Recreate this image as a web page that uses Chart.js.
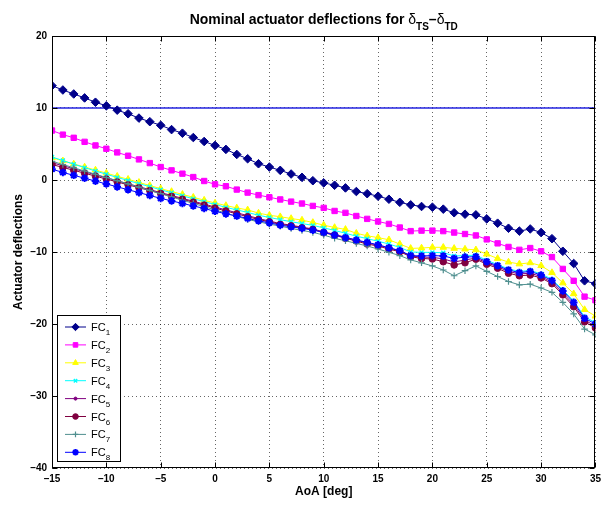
<!DOCTYPE html>
<html><head><meta charset="utf-8">
<script src="https://cdn.jsdelivr.net/npm/chart.js@4/dist/chart.umd.min.js"></script>
<style>html,body{margin:0;padding:0;background:#fff}#wrap{width:606px;height:506px}</style>
</head><body><div id="wrap"><canvas id="c" width="606" height="506"></canvas></div>
<script>
const aoaDeg = [-15,-14,-13,-12,-11,-10,-9,-8,-7,-6,-5,-4,-3,-2,-1,0,1,2,3,4,5,6,7,8,9,10,11,12,13,14,15,16,17,18,19,20,21,22,23,24,25,26,27,28,29,30,31,32,33,34,35];
const seriesNames = ['FC1','FC2','FC3','FC4','FC5','FC6','FC7','FC8'];
const fc1 = [13.1,12.5,11.95,11.4,10.8,10.3,9.7,9.2,8.6,8.1,7.6,7.0,6.5,5.9,5.35,4.8,4.25,3.55,2.95,2.26,1.8,1.34,0.83,0.37,-0.1,-0.4,-0.73,-1.1,-1.6,-1.9,-2.25,-2.67,-3.1,-3.45,-3.68,-3.78,-4.05,-4.55,-4.75,-4.84,-5.4,-6.0,-6.7,-7.1,-6.8,-7.3,-8.15,-9.9,-11.6,-14.0,-14.4];
const fc2 = [6.87,6.3,5.86,5.3,4.8,4.34,3.83,3.37,2.86,2.35,1.8,1.34,0.88,0.41,-0.14,-0.6,-0.87,-1.33,-1.75,-2.1,-2.4,-2.7,-3.0,-3.27,-3.6,-3.87,-4.3,-4.56,-5.0,-5.4,-5.76,-6.1,-6.6,-7.1,-7.03,-7.03,-7.1,-7.3,-7.5,-7.7,-8.25,-8.8,-9.3,-9.7,-9.45,-9.9,-10.7,-12.35,-14.0,-16.2,-16.7];
const fc3 = [3.1,2.65,2.22,1.8,1.38,0.95,0.52,0.1,-0.33,-0.77,-1.2,-1.6,-2.0,-2.4,-2.8,-3.2,-3.55,-3.88,-4.15,-4.6,-4.9,-5.1,-5.35,-5.57,-5.9,-6.27,-6.6,-6.86,-7.4,-7.75,-8.0,-8.3,-8.9,-9.5,-9.45,-9.35,-9.35,-9.5,-9.6,-9.7,-10.3,-10.9,-11.4,-11.66,-11.5,-11.9,-12.86,-14.3,-15.8,-18.0,-18.9];
const fc4 = [3.2,2.7,2.2,1.72,1.25,0.8,0.36,-0.07,-0.5,-0.93,-1.36,-1.78,-2.2,-2.6,-3.0,-3.4,-3.8,-4.15,-4.5,-4.9,-5.2,-5.5,-5.8,-6.05,-6.3,-6.65,-7.0,-7.4,-7.8,-8.15,-8.5,-8.9,-9.35,-10.0,-10.05,-10.05,-10.1,-10.55,-10.5,-10.45,-11.15,-11.75,-12.35,-12.7,-12.55,-13.05,-13.8,-15.25,-16.8,-19.0,-19.8];
const fc5 = [2.4,1.98,1.56,1.14,0.72,0.3,-0.11,-0.52,-0.93,-1.34,-1.75,-2.15,-2.55,-2.95,-3.35,-3.75,-4.15,-4.55,-4.95,-5.35,-5.7,-6.05,-6.28,-6.55,-6.8,-7.2,-7.55,-7.95,-8.35,-8.75,-9.05,-9.45,-9.85,-10.55,-10.7,-10.75,-10.95,-11.4,-11.1,-10.85,-11.5,-12.05,-12.7,-13.05,-12.95,-13.4,-14.2,-15.7,-17.3,-19.45,-20.3];
const fc6 = [2.15,1.75,1.35,0.94,0.54,0.13,-0.27,-0.67,-1.07,-1.47,-1.87,-2.28,-2.68,-3.08,-3.49,-3.9,-4.3,-4.7,-5.1,-5.48,-5.8,-6.17,-6.36,-6.64,-6.86,-7.33,-7.65,-8.1,-8.48,-8.9,-9.17,-9.6,-9.96,-10.65,-10.9,-10.97,-11.35,-11.8,-11.5,-11.0,-11.7,-12.25,-12.95,-13.3,-13.2,-13.6,-14.4,-15.95,-17.6,-19.7,-20.55];
const fc7 = [2.6,2.15,1.7,1.25,0.8,0.35,-0.1,-0.55,-1.0,-1.45,-1.9,-2.35,-2.8,-3.25,-3.7,-4.15,-4.6,-5.05,-5.48,-5.8,-6.13,-6.4,-6.72,-7.0,-7.27,-7.65,-8.1,-8.44,-8.8,-9.17,-9.58,-10.04,-10.5,-11.1,-11.5,-11.94,-12.5,-13.3,-12.6,-11.94,-12.7,-13.4,-14.1,-14.56,-14.47,-15.0,-15.6,-17.0,-18.6,-20.7,-21.5];
const fc8 = [1.5,1.05,0.65,0.25,-0.15,-0.55,-0.95,-1.35,-1.75,-2.15,-2.55,-2.9,-3.25,-3.6,-3.95,-4.35,-4.7,-5.0,-5.34,-5.67,-5.95,-6.27,-6.5,-6.72,-6.96,-7.27,-7.65,-8.0,-8.34,-8.66,-9.0,-9.4,-9.8,-10.5,-10.55,-10.5,-10.55,-10.9,-10.7,-10.65,-11.35,-11.9,-12.5,-12.86,-12.7,-13.2,-13.97,-15.4,-17.0,-19.2,-20.0];
const limitX = [-15, 35];
const limitY = [10, 10];
const xTicks = [-15,-10,-5,0,5,10,15,20,25,30,35];
const yTicks = [-40,-30,-20,-10,0,10,20];

const allSeries = [fc1,fc2,fc3,fc4,fc5,fc6,fc7,fc8];
const styles = [
  {c:'#00008b', ps:'rectRot', r:4.3, bw:1},
  {c:'#ff00ff', ps:'rect', r:3.8, bw:1},
  {c:'#ffff00', ps:'triangle', r:3.8, bw:1},
  {c:'#00ffff', ps:'crossRot', r:2.8, bw:1.4},
  {c:'#800080', ps:'circle', r:1.8, bw:1},
  {c:'#800040', ps:'circle', r:3.3, bw:1},
  {c:'#4f8f8f', ps:'cross', r:3.3, bw:1.2},
  {c:'#0000ff', ps:'star', r:3.8, bw:2}
];
const datasets = allSeries.map((s,i)=>({
  label: seriesNames[i],
  data: aoaDeg.map((a,j)=>({x:a,y:s[j]})),
  borderColor: styles[i].c, backgroundColor: styles[i].c,
  pointBackgroundColor: styles[i].c, pointBorderColor: styles[i].c,
  pointStyle: styles[i].ps, pointRadius: styles[i].r, pointBorderWidth: styles[i].bw,
  borderWidth: 1, tension: 0, fill: false, order: 8 - i, inLegend: true
}));
datasets.unshift({
  label: 'limit', data: limitX.map((a,j)=>({x:a,y:limitY[j]})),
  borderColor: '#2424e0', borderWidth: 1.5, pointRadius: 0, fill: false, order: 10, inLegend: false
});

const fmt = v => String(v).replace('-', '\u2013');
const FONT = '"Liberation Sans", Arial, sans-serif';

const framePlugin = {
  id: 'frame',
  afterDraw(chart) {
    const {ctx, chartArea: a, scales: {x, y}} = chart;
    ctx.save();
    ctx.strokeStyle = '#000'; ctx.lineWidth = 1; ctx.setLineDash([]);
    const L = Math.round(a.left)+0.5, R = Math.round(a.right)-0.5, T = Math.round(a.top)+0.5, B = Math.round(a.bottom)-0.5;
    ctx.strokeRect(L, T, R-L, B-T);
    ctx.beginPath();
    xTicks.forEach(v => { const p = Math.round(x.getPixelForValue(v))+0.5; ctx.moveTo(p,B); ctx.lineTo(p,B-5); ctx.moveTo(p,T); ctx.lineTo(p,T+5); });
    yTicks.forEach(v => { const p = Math.round(y.getPixelForValue(v))+0.5; ctx.moveTo(L,p); ctx.lineTo(L+5,p); ctx.moveTo(R,p); ctx.lineTo(R-5,p); });
    ctx.stroke();
    // title
    const cx = (a.left + a.right)/2, by = 24;
    const parts = [
      {t:'Nominal actuator deflections for ', f:'bold 14px ' + FONT, dy:0},
      {t:'\u03b4', f:'14px ' + FONT, dy:0},
      {t:'TS', f:'bold 10px ' + FONT, dy:6},
      {t:'\u2013', f:'bold 14px ' + FONT, dy:0},
      {t:'\u03b4', f:'14px ' + FONT, dy:0},
      {t:'TD', f:'bold 10px ' + FONT, dy:6}
    ];
    let tot = 0; parts.forEach(p => { ctx.font = p.f; p.w = ctx.measureText(p.t).width; tot += p.w; });
    let sx = cx - tot/2; ctx.fillStyle = '#000'; ctx.textBaseline = 'alphabetic'; ctx.textAlign = 'left';
    parts.forEach(p => { ctx.font = p.f; ctx.fillText(p.t, sx, by + p.dy); sx += p.w; });
    // legend
    const items = chart.data.datasets.filter(d => d.inLegend);
    const lx = 57.5, ly = 315.5, lw = 63, lh = 146;
    ctx.fillStyle = '#fff'; ctx.fillRect(lx, ly, lw, lh);
    ctx.strokeStyle = '#000'; ctx.lineWidth = 1; ctx.strokeRect(lx, ly, lw, lh);
    items.forEach((d, i) => {
      const yy = 327 + i * 17.9;
      ctx.strokeStyle = d.borderColor; ctx.lineWidth = 1;
      ctx.beginPath(); ctx.moveTo(65, yy); ctx.lineTo(86, yy); ctx.stroke();
      ctx.fillStyle = d.pointBackgroundColor; ctx.strokeStyle = d.pointBorderColor; ctx.lineWidth = d.pointBorderWidth;
      Chart.helpers.drawPoint(ctx, {pointStyle: d.pointStyle, radius: d.pointRadius*0.85, rotation: 0, borderWidth: d.pointBorderWidth}, 75.5, yy);
      ctx.fillStyle = '#000';
      ctx.font = '11px ' + FONT;
      const base = d.label.slice(0,2), sub = d.label.slice(2);
      ctx.fillText(base, 91, yy + 4);
      const w = ctx.measureText(base).width;
      ctx.font = '8px ' + FONT;
      ctx.fillText(sub, 91 + w, yy + 8);
    });
    ctx.restore();
  }
};

const gridOpts = { color: 'rgba(0,0,0,0.6)', drawTicks: false, lineWidth: 1 };
const borderOpts = { display: false, dash: [1,3] };

new Chart(document.getElementById('c'), {
  type: 'line',
  data: { datasets },
  options: {
    responsive: false, animation: false, devicePixelRatio: 1,
    layout: { padding: { top: 36, right: 8, left: 0, bottom: 0 } },
    plugins: { legend: { display: false }, title: { display: false }, tooltip: { enabled: false } },
    scales: {
      x: {
        type: 'linear', min: -15, max: 35,
        afterBuildTicks(s) { s.ticks = xTicks.map(v => ({value: v})); },
        afterFit(s) { s.height = 38; },
        grid: gridOpts, border: borderOpts,
        ticks: { color: '#000', padding: 5, maxRotation: 0, autoSkip: false, font: { family: FONT, size: 10, weight: 'bold' }, callback: v => fmt(v) },
        title: { display: true, text: 'AoA [deg]', color: '#000', padding: { top: 0, bottom: 7 }, font: { family: FONT, size: 12, weight: 'bold' } }
      },
      y: {
        type: 'linear', min: -40, max: 20,
        afterBuildTicks(s) { s.ticks = yTicks.map(v => ({value: v})); },
        afterFit(s) { s.width = 52; },
        grid: gridOpts, border: borderOpts,
        ticks: { color: '#000', padding: 5, autoSkip: false, font: { family: FONT, size: 10, weight: 'bold' }, callback: v => fmt(v) },
        title: { display: true, text: 'Actuator deflections', color: '#000', padding: { top: 11, bottom: 0 }, font: { family: FONT, size: 12, weight: 'bold' } }
      }
    }
  },
  plugins: [framePlugin]
});
</script></body></html>
